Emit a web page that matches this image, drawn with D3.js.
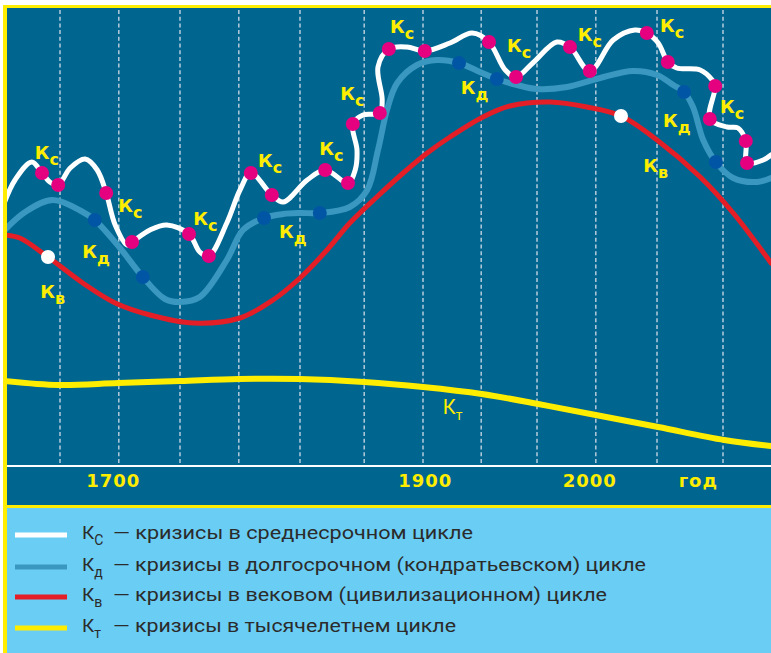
<!DOCTYPE html>
<html><head><meta charset="utf-8">
<script src="https://cdn.jsdelivr.net/npm/d3@7/dist/d3.min.js"></script>
<style>html,body{margin:0;padding:0;background:#fff}svg{display:block}</style>
</head><body>
<script>
// ---- DATA (schematic time units u, level units v) ----
const gridU = [1, 1.98, 3, 3.98, 5, 6.07, 7.05, 8.02, 8.95, 9.93, 10.95, 12.05];
const tickU = [1.88, 7.08, 9.82, 11.63];
const tickLabels = ["1700", "1900", "2000", "год"];

// Кс – medium-term cycle (white)
const kcCurve = [[0.07,26.2],[0.25,28.5],[0.53,30.3],[0.70,29.2],[0.83,28.3],[0.97,28.0],[1.17,29.7],[1.42,30.6],[1.62,29.5],[1.77,27.2],[1.92,24.0],[2.12,22.0],[2.20,22.3],[2.50,23.5],[2.78,24.0],[3.15,23.1],[3.33,21.3],[3.48,20.9],[3.78,24.2],[4.0,27.5],[4.18,29.2],[4.53,27.0],[4.72,26.3],[5.12,28.5],[5.42,29.5],[5.80,28.2],[5.92,29.5],[5.95,31.5],[5.88,34.1],[6.05,35.0],[6.33,35.2],[6.37,36.5],[6.30,39.8],[6.48,41.6],[6.78,41.8],[7.08,41.4],[7.50,42.2],[7.87,43.2],[8.15,42.3],[8.42,39.5],[8.60,38.8],[8.88,40.2],[9.28,42.3],[9.50,41.8],[9.83,39.4],[10.22,42.5],[10.58,43.5],[10.78,43.2],[10.97,42.2],[11.13,40.3],[11.28,39.7],[11.67,39.5],[11.87,38.5],[11.92,37.9],[11.83,34.6],[12.12,33.8],[12.30,33.7],[12.43,32.4],[12.45,30.2],[12.72,30.5],[12.85,31.0]];
const kcCrises = [[0.70,29.2],[0.97,28.0],[1.77,27.2],[2.20,22.3],[3.15,23.1],[3.48,20.9],[4.18,29.2],[4.53,27.0],[5.42,29.5],[5.80,28.2],[5.88,34.1],[6.33,35.2],[6.48,41.6],[7.08,41.4],[8.15,42.3],[8.60,38.8],[9.50,41.8],[9.83,39.4],[10.78,43.2],[11.13,40.3],[11.92,37.9],[11.83,34.6],[12.43,32.4],[12.45,30.2]];

// Кд – Kondratiev cycle (blue)
const kdCurve = [[0.08,23.5],[0.42,25.3],[0.88,26.5],[1.38,25.3],[1.58,24.5],[2.0,21.7],[2.38,18.8],[2.75,16.6],[3.0,16.3],[3.33,16.8],[3.78,20.5],[4.05,23.5],[4.4,24.7],[4.72,25.1],[5.0,25.2],[5.33,25.2],[5.83,25.8],[6.12,27.5],[6.3,31.5],[6.45,35.5],[6.62,38.2],[6.95,40.0],[7.28,40.5],[7.65,40.2],[8.0,39.3],[8.28,38.6],[8.62,38.0],[8.95,37.6],[9.45,37.8],[10.0,38.7],[10.55,39.4],[10.95,39.0],[11.22,38.0],[11.4,37.3],[11.55,35.8],[11.72,32.5],[11.93,30.3],[12.22,28.7],[12.62,28.3],[12.85,28.7]];
const kdCrises = [[1.58,24.5],[2.38,18.8],[4.4,24.7],[5.33,25.2],[7.65,40.2],[8.28,38.6],[11.4,37.3],[11.93,30.3]];

// Кв – secular cycle (red)
const kvCurve = [[0.08,23.0],[0.33,22.7],[0.8,20.8],[1.38,18.2],[1.92,16.2],[2.5,15.0],[3.22,14.2],[4.0,14.7],[4.55,16.5],[5.0,18.7],[5.45,21.5],[5.83,24.2],[6.28,26.8],[6.72,29.2],[7.12,31.2],[7.5,32.8],[8.05,34.8],[8.5,35.9],[9.17,36.3],[9.78,35.8],[10.35,34.9],[10.95,32.5],[11.67,28.8],[12.22,25.2],[12.85,20.2]];
const kvCrises = [[0.8,20.8],[10.35,34.9]];

// Кт – millennial cycle (yellow)
const ktCurve = [[0.08,8.4],[0.98,8.0],[1.97,8.2],[3.0,8.4],[3.98,8.6],[5.0,8.6],[6.07,8.3],[7.05,7.8],[8.03,7.1],[8.97,6.1],[9.93,5.0],[10.97,3.8],[12.07,2.5],[12.85,1.9]];

// Curve labels: [u, v]
const kcLabels = [[0.58,30.6],[1.97,25.3],[3.22,24.0],[4.3,29.8],[5.32,31.0],[5.67,36.5],[6.5,43.2],[8.45,41.3],[9.63,42.4],[11.0,43.3],[12.0,35.2]];
const kdLabels = [[1.37,20.7],[4.65,22.7],[7.68,37.1],[11.05,33.8]];
const kvLabels = [[0.67,16.7],[10.72,29.3]];
const ktLabels = [[7.38,5.1]];

const legendSubs = ["С", "д", "в", "т"];
const legendTexts = ["— кризисы в среднесрочном цикле", "— кризисы в долгосрочном (кондратьевском) цикле", "— кризисы в вековом (цивилизационном) цикле", "— кризисы в тысячелетнем цикле"];
const legendColors = ["#ffffff", "#3a97bf", "#e41e26", "#ffed00"];

// ---- DRAW ----
const W = 771, H = 653;
const C = {bg:"#006690", white:"#ffffff", blue:"#3a97bf", red:"#e41e26", yellow:"#ffed00", pink:"#e4007f", dblue:"#0056a4", legend:"#6acdf4"};
const svg = d3.select("body").append("svg").attr("width", W).attr("height", H);

svg.append("rect").attr("width", W).attr("height", H).attr("fill", "#fff");
svg.append("rect").attr("x", 3).attr("y", 5).attr("width", W - 3).attr("height", H - 5).attr("fill", C.yellow);
svg.append("rect").attr("x", 7).attr("y", 8).attr("width", W - 7).attr("height", 457).attr("fill", C.bg);
svg.append("rect").attr("x", 7).attr("y", 465).attr("width", W - 7).attr("height", 2).attr("fill", "#fff");
svg.append("rect").attr("x", 7).attr("y", 467).attr("width", W - 7).attr("height", 38).attr("fill", C.bg);
svg.append("rect").attr("x", 7).attr("y", 508).attr("width", W - 7).attr("height", H - 508).attr("fill", C.legend);

const x = d3.scaleLinear().domain([0, 12.85]).range([0, 771]);
const y = d3.scaleLinear().domain([0, 46]).range([465, 5]);

svg.append("clipPath").attr("id", "plotclip").append("rect")
  .attr("x", 7).attr("y", 8).attr("width", W - 7).attr("height", 457);
const plot = svg.append("g").attr("clip-path", "url(#plotclip)");

plot.selectAll("line.grid").data(gridU).join("line").attr("class", "grid")
  .attr("x1", d => x(d)).attr("x2", d => x(d)).attr("y1", 10).attr("y2", 465)
  .attr("stroke", "#b4cbdb").attr("stroke-width", 1.5).attr("stroke-dasharray", "4,2.7");

const line = d3.line().x(d => x(d[0])).y(d => y(d[1])).curve(d3.curveCatmullRom.alpha(0.5));

function drawCurve(data, color, w) {
  plot.append("path").datum(data).attr("d", line).attr("fill", "none")
    .attr("stroke", color).attr("stroke-width", w).attr("stroke-linecap", "round").attr("stroke-linejoin", "round");
}
function drawDots(data, color, r) {
  plot.append("g").selectAll("circle").data(data).join("circle")
    .attr("cx", d => x(d[0])).attr("cy", d => y(d[1])).attr("r", r).attr("fill", color);
}
drawCurve(ktCurve, C.yellow, 6);
drawCurve(kvCurve, C.red, 5);
drawCurve(kdCurve, C.blue, 6);
drawCurve(kcCurve, C.white, 5);
drawDots(kvCrises, C.white, 7);
drawDots(kdCrises, C.dblue, 7);
drawDots(kcCrises, C.pink, 7);

function drawLabels(data, sub, bold) {
  const t = plot.append("g").selectAll("text").data(data).join("text")
    .attr("x", d => x(d[0])).attr("y", d => y(d[1]))
    .attr("fill", C.yellow)
    .attr("font-family", bold ? "DejaVu Sans" : "Roboto")
    .attr("font-weight", bold ? "bold" : "normal");
  t.append("tspan").attr("font-size", bold ? 18 : 20).text("К");
  t.append("tspan").attr("font-size", bold ? 16 : 14).attr("dy", 6).text(sub);
}
drawLabels(kcLabels, "с", true);
drawLabels(kdLabels, "д", true);
drawLabels(kvLabels, "в", true);
drawLabels(ktLabels, "т", false);

// axis
const axis = d3.axisBottom(x).tickValues(tickU).tickFormat((d, i) => tickLabels[i]).tickSize(0);
const ag = svg.append("g").attr("transform", "translate(0,487)").call(axis);
ag.select(".domain").remove();
ag.selectAll("text").attr("y", 0).attr("dy", 0).attr("fill", C.yellow)
  .attr("font-family", "DejaVu Sans").attr("font-weight", "bold").attr("font-size", 18)
  .attr("letter-spacing", 1);

// legend
const rowsY = [535, 567, 597, 628];
const rowEnds = [473, 646, 607, 456];
const lg = svg.append("g");
lg.selectAll("line").data(legendColors).join("line")
  .attr("x1", 15).attr("x2", 67).attr("y1", (d, i) => rowsY[i]).attr("y2", (d, i) => rowsY[i])
  .attr("stroke", d => d).attr("stroke-width", 5);
const lt = lg.selectAll("g.row").data(legendTexts).join("g").attr("class", "row");
lt.append("text").attr("x", 82).attr("y", (d, i) => rowsY[i] + 4)
  .attr("font-family", "Roboto").attr("fill", "#2b2b2b")
  .call(t => {
    t.append("tspan").attr("font-size", 19).text("К");
    t.append("tspan").attr("font-size", 14).attr("dy", 6).text((d, i) => legendSubs[i]);
  });
lt.append("text").attr("x", 113).attr("y", (d, i) => rowsY[i] + 4)
  .attr("font-family", "Roboto").attr("font-size", 19).attr("fill", "#2b2b2b")
  .attr("textLength", (d, i) => rowEnds[i] - 113).attr("lengthAdjust", "spacingAndGlyphs")
  .text(d => d);
</script>
</body></html>
